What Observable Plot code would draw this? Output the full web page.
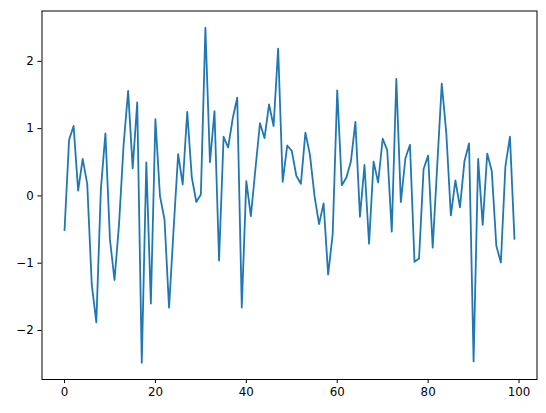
<!DOCTYPE html>
<html>
<head>
<meta charset="utf-8">
<script src="https://cdn.jsdelivr.net/npm/d3@7"></script>
<script src="https://cdn.jsdelivr.net/npm/@observablehq/plot@0.6"></script>
<style>
  html, body { margin: 0; padding: 0; background: #fff; }
  #chart { width: 546px; height: 413px; }
</style>
</head>
<body>
<div id="chart"></div>
<script>
const values = [
  -0.52, 0.83, 1.04, 0.08, 0.55, 0.18, -1.32, -1.88, 0.10, 0.93,
  -0.65, -1.25, -0.42, 0.76, 1.56, 0.41, 1.39, -2.48, 0.50, -1.60,
  1.14, 0.00, -0.35, -1.66, -0.50, 0.62, 0.17, 1.25, 0.28, -0.09,
  0.02, 2.50, 0.50, 1.26, -0.96, 0.88, 0.72, 1.15, 1.46, -1.66,
  0.22, -0.30, 0.40, 1.08, 0.86, 1.36, 1.04, 2.19, 0.21, 0.75,
  0.67, 0.30, 0.18, 0.94, 0.61, 0.00, -0.42, -0.11, -1.17, -0.57,
  1.57, 0.16, 0.27, 0.51, 1.10, -0.31, 0.46, -0.71, 0.51, 0.20,
  0.85, 0.68, -0.53, 1.74, -0.09, 0.56, 0.76, -0.98, -0.93, 0.40,
  0.60, -0.77, 0.45, 1.67, 0.93, -0.29, 0.23, -0.17, 0.52, 0.78,
  -2.46, 0.55, -0.43, 0.63, 0.37, -0.74, -0.99, 0.44, 0.88, -0.65
];
const xTicks = [0, 20, 40, 60, 80, 100];
const yTicks = [-2, -1, 0, 1, 2];

const data = values.map((v, i) => ({x: i, y: v}));
const n = values.length;
const xPad = (n - 1) * 0.05;
const yMin = d3.min(values), yMax = d3.max(values);
const yPad = (yMax - yMin) * 0.05;

const chart = Plot.plot({
  width: 546,
  height: 413,
  marginLeft: 41.5,
  marginRight: 9.5,
  marginTop: 10.5,
  marginBottom: 34,
  style: {fontFamily: "DejaVu Sans", fontSize: "11.85px", color: "black", background: "white"},
  x: {domain: [-xPad, n - 1 + xPad], ticks: xTicks, label: null},
  y: {domain: [yMin - yPad, yMax + yPad], ticks: yTicks, label: null},
  marks: [
    Plot.lineY(data, {x: "x", y: "y", stroke: "#1f77b4", strokeWidth: 1.8, strokeLinejoin: "round", strokeLinecap: "butt"}),
    Plot.frame({stroke: "black", strokeWidth: 1}),
    Plot.axisX({ticks: xTicks, tickFormat: "d", tickSize: 4.1, tickPadding: 4, stroke: "black", fill: "black", strokeWidth: 1, label: null}),
    Plot.axisY({ticks: yTicks, tickFormat: "d", tickSize: 4.1, tickPadding: 4, stroke: "black", fill: "black", strokeWidth: 1, label: null})
  ]
});
document.getElementById("chart").appendChild(chart);
</script>
</body>
</html>
